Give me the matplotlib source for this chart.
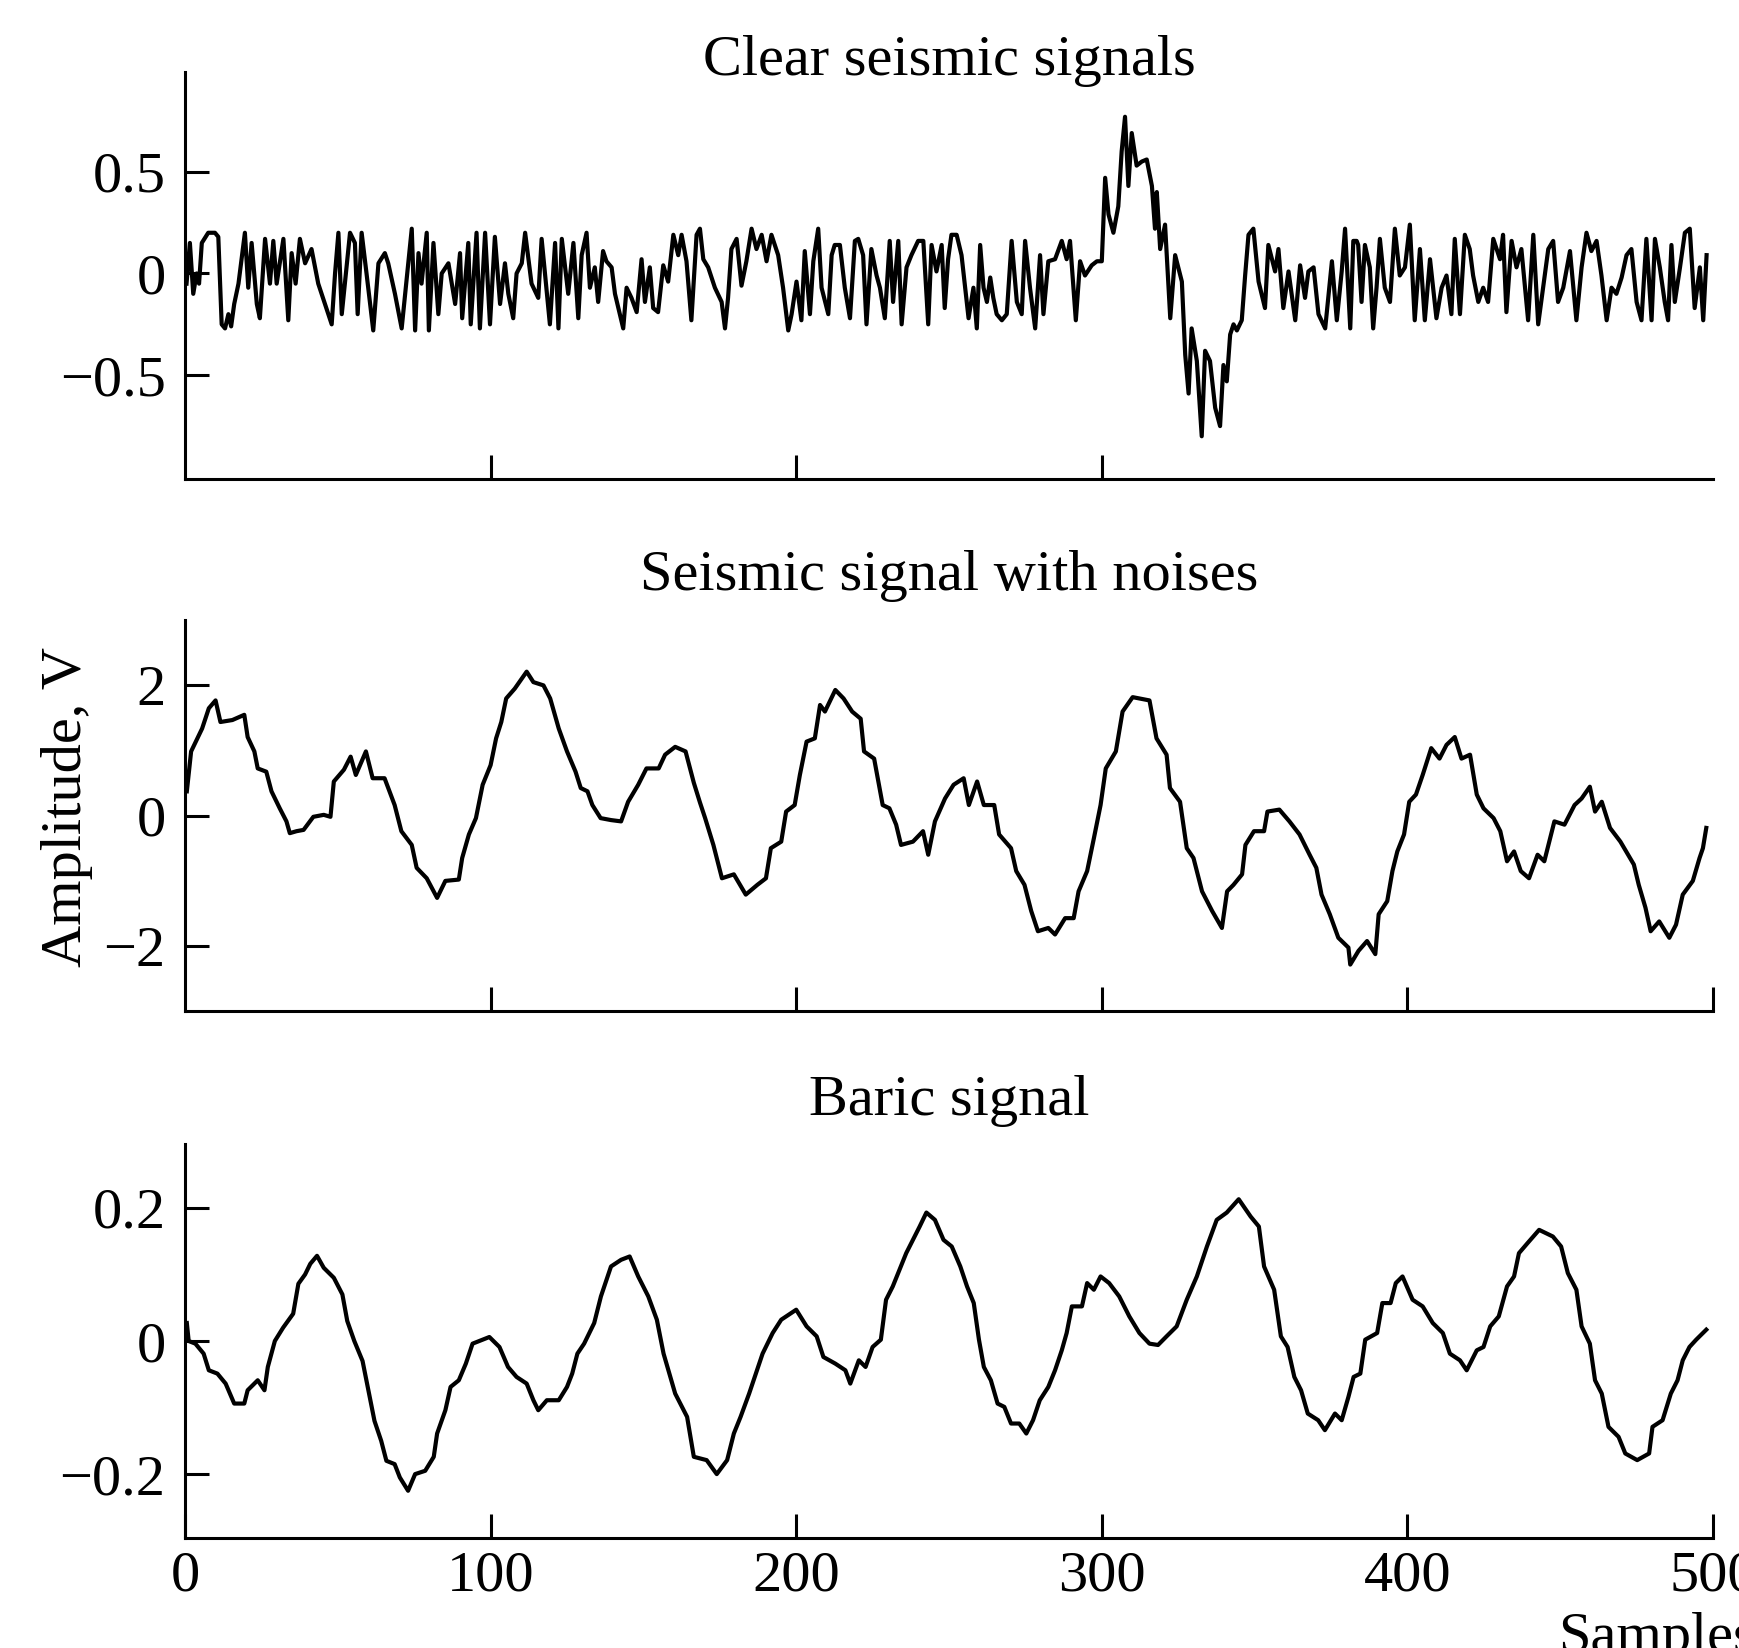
import matplotlib
matplotlib.use('Agg')
import matplotlib.pyplot as plt

plt.rcParams['font.family'] = ['Liberation Serif', 'DejaVu Serif']
plt.rcParams['axes.unicode_minus'] = True

# === data: (sample, value) ===
clear_pts = [
    (0.5, -0.05), (1.6, 0.15), (2.7, -0.1), (3.8, 0.0), (4.6, -0.05), (5.5, 0.15), (7.6, 0.2), (9.8, 0.2),
    (10.9, 0.18), (12.0, -0.25), (13.1, -0.27), (14.2, -0.2), (15.1, -0.26), (16.1, -0.15), (17.5, -0.05),
    (19.6, 0.2), (20.7, -0.07), (21.8, 0.15), (23.5, -0.15), (24.5, -0.22), (26.2, 0.17), (27.8, -0.05),
    (28.9, 0.16), (30.0, -0.05), (32.2, 0.17), (33.8, -0.23), (34.9, 0.1), (36.2, -0.05), (37.6, 0.17),
    (39.3, 0.05), (41.4, 0.12), (43.6, -0.05), (46.9, -0.2), (48.0, -0.25), (49.1, 0.0), (50.2, 0.2),
    (51.3, -0.2), (54.0, 0.2), (55.6, 0.15), (56.5, -0.2), (57.8, 0.2), (59.4, 0.0), (61.6, -0.28),
    (63.3, 0.05), (65.4, 0.1), (66.5, 0.05), (68.7, -0.1), (70.9, -0.27), (74.2, 0.22), (75.3, -0.28),
    (76.4, 0.1), (77.4, -0.05), (79.1, 0.2), (79.8, -0.28), (81.3, 0.15), (82.9, -0.2), (84.0, 0.0),
    (86.2, 0.05), (88.4, -0.15), (90.0, 0.1), (90.7, -0.22), (92.7, 0.15), (93.5, -0.25), (95.4, 0.2),
    (96.5, -0.27), (98.2, 0.2), (99.8, -0.25), (101.4, 0.18), (103.1, -0.15), (104.7, 0.05), (105.8, -0.1),
    (107.4, -0.22), (108.5, 0.0), (110.2, 0.05), (111.3, 0.2), (113.4, -0.05), (115.6, -0.12), (116.7, 0.17),
    (117.8, 0.0), (119.4, -0.25), (121.1, 0.15), (122.2, -0.27), (123.3, 0.17), (125.4, -0.1), (127.1, 0.15),
    (128.7, -0.22), (129.8, 0.09), (131.4, 0.2), (132.5, -0.07), (134.1, 0.03), (135.2, -0.14), (136.8, 0.11),
    (137.9, 0.06), (139.6, 0.03), (140.7, -0.1), (142.3, -0.2), (143.4, -0.27), (144.5, -0.07), (146.1, -0.12),
    (147.8, -0.19), (149.4, 0.07), (150.5, -0.14), (152.1, 0.03), (153.2, -0.17), (154.8, -0.19), (156.5, 0.04),
    (158.1, -0.04), (159.8, 0.19), (161.4, 0.09), (162.5, 0.19), (164.1, 0.06), (165.7, -0.23), (167.4, 0.19),
    (168.5, 0.22), (169.6, 0.07), (171.2, 0.03), (173.4, -0.07), (175.6, -0.14), (176.7, -0.27), (177.7, -0.12),
    (178.8, 0.12), (180.5, 0.17), (182.1, -0.06), (183.7, 0.06), (185.4, 0.22), (187.0, 0.12), (188.7, 0.19),
    (190.3, 0.06), (191.9, 0.19), (194.1, 0.09), (195.7, -0.07), (197.4, -0.28), (198.5, -0.2), (200.1, -0.04),
    (201.7, -0.23), (202.8, 0.11), (204.5, -0.2), (205.6, 0.06), (207.2, 0.22), (208.3, -0.07), (210.5, -0.2),
    (211.6, 0.09), (212.6, 0.14), (214.3, 0.14), (215.9, -0.07), (217.6, -0.22), (219.2, 0.16), (220.3, 0.17),
    (221.9, 0.09), (223.0, -0.25), (224.6, 0.12), (226.3, -0.01), (227.4, -0.07), (229.0, -0.22), (230.6, 0.16),
    (231.7, -0.14), (233.4, 0.16), (234.5, -0.25), (236.1, 0.03), (237.7, 0.09), (239.9, 0.16), (241.6, 0.16),
    (243.2, -0.25), (244.3, 0.14), (245.9, 0.01), (247.6, 0.14), (248.6, -0.17), (249.7, 0.07), (250.8, 0.19),
    (252.5, 0.19), (254.1, 0.09), (255.3, -0.07), (256.4, -0.22), (258.0, -0.07), (259.1, -0.27), (260.2, 0.14),
    (261.3, -0.07), (262.4, -0.14), (263.5, -0.02), (264.5, -0.12), (265.6, -0.2), (267.3, -0.23), (268.9, -0.2),
    (270.5, 0.16), (272.2, -0.14), (273.8, -0.2), (274.9, 0.16), (276.5, -0.07), (278.2, -0.27), (279.8, 0.09),
    (280.9, -0.2), (282.5, 0.06), (284.7, 0.07), (286.9, 0.16), (288.5, 0.07), (289.6, 0.16), (290.7, -0.07),
    (291.5, -0.23), (292.9, 0.06), (294.5, -0.01), (296.7, 0.04), (298.4, 0.06), (300.0, 0.06), (301.1, 0.47),
    (302.2, 0.29), (303.8, 0.2), (305.4, 0.33), (306.5, 0.6), (307.6, 0.77), (308.7, 0.43), (309.8, 0.69),
    (311.4, 0.53), (313.1, 0.55), (314.7, 0.56), (316.4, 0.43), (317.4, 0.22), (318.0, 0.4), (319.1, 0.12),
    (320.7, 0.24), (322.4, -0.22), (324.0, 0.09), (326.2, -0.04), (327.3, -0.4), (328.4, -0.59), (329.4, -0.27),
    (331.1, -0.43), (332.7, -0.8), (333.8, -0.38), (335.4, -0.43), (337.1, -0.66), (338.7, -0.75), (339.8, -0.45),
    (340.9, -0.53), (342.0, -0.3), (343.1, -0.25), (344.2, -0.28), (345.8, -0.23), (346.9, -0.01), (348.0, 0.19),
    (349.6, 0.22), (351.3, -0.04), (353.4, -0.17), (354.5, 0.14), (356.7, 0.01), (357.8, 0.12), (359.4, -0.17),
    (361.1, 0.01), (363.3, -0.23), (364.9, 0.04), (366.5, -0.12), (367.6, 0.01), (369.3, 0.03), (370.9, -0.2),
    (373.1, -0.27), (375.3, 0.06), (376.9, -0.23), (378.5, 0.01), (379.6, 0.22), (381.3, -0.27), (382.3, 0.16),
    (383.4, 0.16), (383.9, 0.14), (385.0, -0.14), (386.1, 0.14), (387.7, 0.03), (388.8, -0.27), (389.9, -0.07),
    (391.0, 0.17), (392.6, -0.07), (394.3, -0.14), (395.9, 0.22), (397.5, -0.01), (399.2, 0.03), (400.8, 0.24),
    (402.4, -0.23), (404.1, 0.12), (405.7, -0.23), (407.4, 0.07), (409.5, -0.22), (411.2, -0.07), (412.8, -0.01),
    (414.4, -0.2), (415.5, 0.17), (417.2, -0.2), (418.8, 0.19), (420.4, 0.12), (421.5, -0.01), (423.2, -0.14),
    (424.8, -0.07), (426.4, -0.14), (428.1, 0.17), (430.3, 0.07), (431.3, 0.19), (432.4, -0.19), (434.1, 0.16),
    (435.7, 0.03), (437.3, 0.12), (439.5, -0.23), (441.2, 0.19), (442.8, -0.25), (444.4, -0.07), (446.1, 0.12),
    (447.7, 0.16), (449.3, -0.14), (451.0, -0.07), (453.2, 0.11), (455.3, -0.23), (457.0, 0.03), (458.6, 0.2),
    (460.2, 0.11), (461.9, 0.16), (463.5, -0.01), (465.2, -0.23), (466.8, -0.07), (468.4, -0.1), (470.1, -0.02),
    (471.7, 0.09), (473.3, 0.12), (475.0, -0.14), (476.6, -0.23), (478.2, 0.17), (479.9, -0.23), (481.0, 0.17),
    (482.6, 0.03), (484.2, -0.14), (485.3, -0.23), (486.4, 0.14), (487.5, -0.14), (489.2, 0.03), (490.8, 0.2),
    (492.4, 0.22), (494.0, -0.17), (495.7, 0.03), (496.8, -0.23), (497.9, 0.09),
]

noisy_pts = [
    (0.6, 0.37), (2, 0.98), (5.6, 1.33), (7.8, 1.64), (10, 1.76), (11.6, 1.43), (15.5, 1.46), (19.4, 1.54),
    (20.5, 1.2), (22.7, 0.98), (23.8, 0.72), (26.6, 0.67), (28.3, 0.37), (31, 0.11), (33.2, -0.09),
    (34.3, -0.27), (36.5, -0.24), (38.8, -0.22), (42, -0.02), (45.4, 0.01), (47.6, -0.02), (48.7, 0.52),
    (52, 0.70), (54.2, 0.90), (55.9, 0.62), (59.2, 0.98), (61.4, 0.57), (65.3, 0.57), (68.6, 0.16),
    (70.8, -0.24), (74.2, -0.45), (75.8, -0.80), (79.1, -0.96), (82.5, -1.26), (85.2, -1.0), (89.6, -0.98),
    (90.7, -0.65), (92.9, -0.29), (95.2, -0.04), (97.4, 0.47), (100, 0.77), (101.8, 1.18), (103.5, 1.43),
    (105.1, 1.79), (107.9, 1.94), (111.8, 2.2), (114, 2.04), (117.3, 1.99), (119.5, 1.79), (122.3, 1.33),
    (125, 0.98), (127.8, 0.67), (129.5, 0.42), (131.7, 0.37), (133.3, 0.16), (136, -0.04), (139.4, -0.07),
    (142.7, -0.09), (145, 0.21), (148.3, 0.47), (151, 0.72), (155, 0.72), (157.1, 0.93), (160.4, 1.05),
    (163.8, 0.98), (166.5, 0.5), (168.5, 0.2), (170.2, -0.04), (172.9, -0.45), (175.7, -0.96), (179.6, -0.9),
    (183.5, -1.21), (187.3, -1.06), (190.1, -0.96), (191.7, -0.5), (195.1, -0.4), (196.7, 0.06), (199.5, 0.16),
    (201.2, 0.62), (203.4, 1.13), (206.1, 1.18), (207.8, 1.69), (209.4, 1.59), (212.8, 1.92), (215.5, 1.79),
    (218.3, 1.59), (221.1, 1.48), (222.2, 0.98), (225.5, 0.87), (228.3, 0.16), (230.5, 0.11), (232.7, -0.14),
    (234.3, -0.45), (238.2, -0.4), (241.5, -0.24), (243.2, -0.6), (245.4, -0.09), (248.7, 0.26), (251.5, 0.47),
    (254.8, 0.57), (256.5, 0.16), (259.2, 0.52), (261.4, 0.16), (264.8, 0.16), (266.4, -0.29), (270.3, -0.5),
    (272, -0.85), (274.7, -1.06), (276.9, -1.46), (279.1, -1.77), (282.5, -1.72), (284.7, -1.82), (288, -1.57),
    (290.8, -1.57), (292.4, -1.16), (295.2, -0.85), (297.4, -0.35), (299.6, 0.16), (301.3, 0.72), (304.6, 0.98),
    (306.8, 1.59), (310.1, 1.81), (315.6, 1.76), (317.9, 1.18), (321.2, 0.93), (322.3, 0.42), (325.6, 0.21),
    (327.8, -0.5), (330, -0.65), (332.8, -1.16), (336.1, -1.46), (339.3, -1.72), (341, -1.16), (343.1, -1.06),
    (345.9, -0.9), (347, -0.45), (349.8, -0.24), (353.1, -0.24), (354.2, 0.06), (358.1, 0.09), (361.4, -0.09),
    (364.7, -0.29), (368, -0.6), (370.2, -0.8), (371.9, -1.21), (374.6, -1.51), (377.4, -1.87), (380.7, -2.02),
    (381.3, -2.28), (384, -2.07), (386.8, -1.92), (389.5, -2.12), (390.6, -1.51), (393.4, -1.31), (395.1, -0.85),
    (396.7, -0.55), (398.9, -0.29), (400.6, 0.21), (402.8, 0.32), (405, 0.62), (407.8, 1.03), (410.5, 0.87),
    (412.8, 1.08), (415.5, 1.2), (417.7, 0.87), (420.5, 0.93), (422.7, 0.32), (424.9, 0.11), (428.2, -0.04),
    (430.4, -0.24), (432.6, -0.7), (434.9, -0.55), (437.1, -0.85), (439.8, -0.96), (442.6, -0.6), (444.8, -0.7),
    (448.1, -0.09), (451.4, -0.14), (454.7, 0.16), (457, 0.26), (459.7, 0.44), (461.4, 0.06), (463.6, 0.21),
    (466.3, -0.19), (469.7, -0.4), (474.1, -0.75), (475.7, -1.06), (477.9, -1.41), (479.6, -1.77), (482.4, -1.62),
    (485.7, -1.87), (487.9, -1.67), (490.1, -1.21), (493.4, -1.0), (495.6, -0.65), (496.7, -0.5), (497.8, -0.19),
]

baric_pts = [
    (0.6, 0.027), (1.2, 0.0), (3.4, -0.004), (6.1, -0.019), (7.8, -0.044), (10.6, -0.049), (13.3, -0.064),
    (16.1, -0.094), (19.4, -0.094), (20.5, -0.074), (23.8, -0.059), (26, -0.074), (27.1, -0.039), (29.4, 0.0),
    (32.1, 0.02), (35.4, 0.041), (37.1, 0.086), (39.3, 0.1), (41, 0.116), (43.2, 0.128), (45.4, 0.11),
    (48.7, 0.095), (51.5, 0.07), (53.1, 0.03), (55.4, 0.0), (58.1, -0.03), (59.8, -0.069), (62, -0.12),
    (64.2, -0.15), (65.9, -0.18), (68.6, -0.185), (70.3, -0.205), (73, -0.225), (75.3, -0.2), (78.6, -0.195),
    (81.4, -0.174), (82.5, -0.139), (85.2, -0.104), (86.9, -0.069), (89.6, -0.059), (91.9, -0.034),
    (94.1, -0.004), (96.3, 0.0), (99.6, 0.006), (102.9, -0.009), (105.7, -0.039), (108.5, -0.054),
    (111.8, -0.064), (114, -0.089), (115.6, -0.104), (118.4, -0.089), (122.3, -0.089), (125, -0.069),
    (126.7, -0.049), (128.4, -0.019), (130.6, -0.004), (133.9, 0.027), (136.1, 0.067), (139.4, 0.112),
    (142.7, 0.122), (145.5, 0.127), (148.3, 0.097), (151.6, 0.067), (154.4, 0.032), (156.6, -0.019),
    (160.4, -0.079), (164.3, -0.114), (166.5, -0.174), (170.7, -0.179), (174, -0.2), (177.4, -0.179),
    (179.6, -0.139), (181.8, -0.114), (184.6, -0.079), (186.8, -0.049), (189, -0.019), (192.3, 0.012),
    (195.1, 0.032), (200, 0.047), (203.4, 0.022), (206.7, 0.007), (208.9, -0.024), (212.8, -0.034),
    (216.1, -0.044), (217.7, -0.064), (220.5, -0.029), (222.7, -0.039), (225, -0.009), (227.7, 0.002),
    (229.4, 0.062), (231.6, 0.082), (233.8, 0.107), (236, 0.132), (238.2, 0.152), (240.4, 0.172),
    (242.6, 0.193), (245.4, 0.182), (248.2, 0.152), (250.9, 0.142), (253.7, 0.112), (255.9, 0.082),
    (258.1, 0.057), (259.8, 0.002), (261.4, -0.039), (263.7, -0.059), (265.9, -0.094), (268.1, -0.099),
    (270.3, -0.124), (273, -0.124), (275.3, -0.139), (277.5, -0.119), (279.7, -0.089), (282.5, -0.069),
    (284.7, -0.044), (286.9, -0.014), (288.5, 0.012), (290.2, 0.052), (293.5, 0.052), (295.2, 0.087),
    (297.4, 0.077), (299.6, 0.097), (302.4, 0.087), (305.7, 0.067), (309, 0.037), (312.3, 0.012),
    (315.6, -0.004), (318.4, -0.006), (321.2, 0.007), (324.5, 0.022), (327.8, 0.062), (331.1, 0.097),
    (334.4, 0.142), (337.6, 0.182), (340.9, 0.193), (344.8, 0.213), (348.7, 0.187), (351.4, 0.172),
    (353.1, 0.112), (356.4, 0.077), (358.6, 0.007), (360.8, -0.009), (363, -0.054), (365.2, -0.074),
    (367.4, -0.109), (370.8, -0.119), (373, -0.134), (376.3, -0.109), (378.5, -0.119), (380.7, -0.084),
    (382.4, -0.054), (384.6, -0.049), (386.2, 0.002), (390.1, 0.012), (391.8, 0.057), (394.5, 0.057),
    (396.2, 0.087), (398.4, 0.097), (401.7, 0.062), (405, 0.052), (408.3, 0.027), (411.6, 0.012),
    (413.9, -0.019), (417.2, -0.029), (419.4, -0.044), (422.7, -0.014), (424.9, -0.009), (427.1, 0.022),
    (429.9, 0.037), (432.6, 0.082), (434.9, 0.097), (436.5, 0.132), (439.3, 0.147), (443.1, 0.167),
    (447.6, 0.157), (450.3, 0.142), (452.5, 0.102), (455.3, 0.077), (457, 0.022), (459.7, -0.004),
    (461.4, -0.059), (463.6, -0.079), (465.8, -0.129), (469.1, -0.144), (471.3, -0.169), (475.2, -0.179),
    (479.1, -0.169), (480.2, -0.129), (483.5, -0.119), (486.2, -0.079), (488.4, -0.059), (490.1, -0.029),
    (492.3, -0.009), (494.5, 0.002), (497.8, 0.017),
]

titles = ["Clear seismic signals", "Seismic signal with noises", "Baric signal"]
ylims = [(-1.01, 0.99), (-2.99, 2.99), (-0.296, 0.296)]
yticks = [[-0.5, 0, 0.5], [-2, 0, 2], [-0.2, 0, 0.2]]
ytick_labels = [["\u22120.5", "0", "0.5"], ["\u22122", "0", "2"], ["\u22120.2", "0", "0.2"]]
xticks = [[100, 200, 300], [100, 200, 300, 400, 500], [0, 100, 200, 300, 400, 500]]

W, H = 1739, 1648
fig = plt.figure(figsize=(W / 100, H / 100), dpi=100)

# axes boxes in pixels (top, bottom)
boxes = [(72, 479), (620, 1011), (1144, 1538)]
left, right = 185, 1713
title_y = [61, 576, 1101]

series = [clear_pts, noisy_pts, baric_pts]
FS = 42

for i, (pts, (top, bot)) in enumerate(zip(series, boxes)):
    ax = fig.add_axes([left / W, 1 - bot / H, (right - left) / W, (bot - top) / H])
    xs = [p[0] for p in pts]
    ys = [p[1] for p in pts]
    ax.plot(xs, ys, color='black', lw=3.0)
    ax.set_xlim(0, 500)
    ax.set_ylim(*ylims[i])
    ax.set_yticks(yticks[i])
    ax.set_yticklabels(ytick_labels[i])
    ax.set_xticks(xticks[i])
    for s in ['top', 'right']:
        ax.spines[s].set_visible(False)
    for s in ['left', 'bottom']:
        ax.spines[s].set_linewidth(2.2)
    ax.tick_params(direction='in', length=17, width=2.2, labelsize=FS)
    ax.tick_params(axis='y', pad=14)
    ax.tick_params(axis='x', pad=9)
    if i < 2:
        ax.tick_params(axis='x', labelbottom=False)
    fig.text(((left + right) / 2) / W, 1 - title_y[i] / H, titles[i],
             ha='center', va='center', fontsize=FS)

fig.text(67 / W, 1 - 807 / H, "Amplitude, V", rotation=90, ha='center', va='center', fontsize=FS)
fig.text(1558 / W, -4 / H, "Samples", ha='left', va='baseline', fontsize=FS)

fig.savefig('out.png', dpi=100)
